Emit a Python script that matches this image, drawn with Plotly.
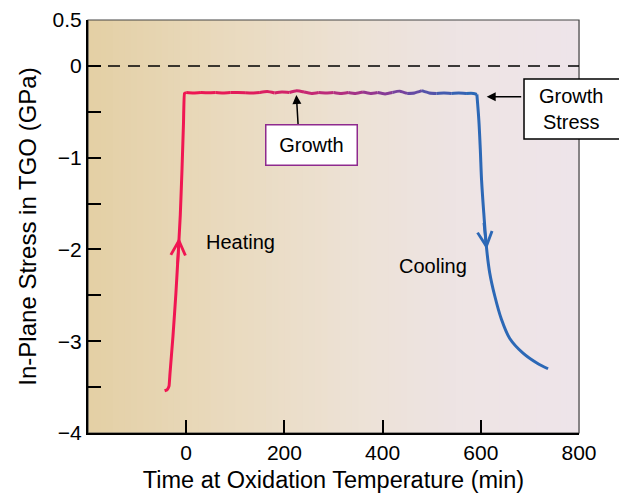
import numpy as np
import plotly.graph_objects as go

# ---------------- data ----------------
heat_x = [-44, -39, -35, -33, -27, -21, -16, -12, -8.5, -5.5, -3.5, 0]
heat_y = [-3.54, -3.53, -3.49, -3.35, -2.95, -2.48, -2.02, -1.62, -1.12, -0.62, -0.30, -0.29]

plat_x = [0, 15, 30, 45, 60, 75, 90, 105, 120, 135, 150, 165, 180, 195, 210, 225,
          240, 255, 270, 285, 300, 315, 330, 345, 360, 375, 390, 405, 420, 435,
          450, 465, 480, 495, 510, 525, 540, 555, 570, 585, 592]
plat_y = [-0.29, -0.295, -0.29, -0.292, -0.29, -0.295, -0.29, -0.29, -0.292, -0.295,
          -0.29, -0.28, -0.295, -0.285, -0.29, -0.27, -0.285, -0.30, -0.29, -0.295,
          -0.29, -0.30, -0.29, -0.30, -0.285, -0.30, -0.29, -0.305, -0.29, -0.275,
          -0.30, -0.295, -0.27, -0.295, -0.30, -0.295, -0.30, -0.295, -0.30, -0.30, -0.31]

cool_x = [592, 596, 599, 601.5, 606, 612, 618, 628.6, 642, 659, 686, 715, 737]
cool_y = [-0.31, -0.59, -0.91, -1.24, -1.60, -2.00, -2.25, -2.51, -2.76, -2.97,
          -3.13, -3.24, -3.30]

x_tickvals = [0, 200, 400, 600, 800]
x_ticktext = ["0", "200", "400", "600", "800"]
y_tickvals = [0.5, 0, -0.5, -1, -1.5, -2, -2.5, -3, -3.5, -4]
y_ticktext = ["0.5", "0", "", "\u22121", "", "\u22122", "", "\u22123", "", "\u22124"]

FONT = "Liberation Sans, Arial, Helvetica, sans-serif"

# colour along the path (red -> purple -> blue)
col_stops_x = [0, 150, 300, 420, 520, 580]
col_stops = [(240, 22, 82), (222, 30, 95), (185, 45, 125), (128, 62, 155), (70, 90, 175), (44, 104, 182)]


def path_color(xv):
    r = np.interp(xv, col_stops_x, [c[0] for c in col_stops])
    g = np.interp(xv, col_stops_x, [c[1] for c in col_stops])
    b = np.interp(xv, col_stops_x, [c[2] for c in col_stops])
    return f"rgb({int(r)},{int(g)},{int(b)})"


fig = go.Figure()

# gradient background
bg_stops = [0, 0.3, 0.55, 0.75, 1.0]
bg_cols = [(228, 208, 165), (234, 219, 192), (237, 226, 214), (238, 228, 228), (239, 229, 234)]
shapes = []
N = 80
for i in range(N):
    f = (i + 0.5) / N
    c = [int(np.interp(f, bg_stops, [cc[k] for cc in bg_cols])) for k in range(3)]
    shapes.append(dict(type="rect", xref="paper", yref="paper", x0=i / N, x1=(i + 1) / N + 0.002,
                       y0=0, y1=1, fillcolor=f"rgb({c[0]},{c[1]},{c[2]})",
                       line=dict(width=0), layer="below"))
# frame
shapes.append(dict(type="rect", xref="paper", yref="paper", x0=0, x1=1, y0=0, y1=1,
                   line=dict(color="#444444", width=1.2), layer="below"))
# dashed zero line
shapes.append(dict(type="line", xref="paper", yref="y", x0=0, x1=1, y0=0, y1=0,
                   line=dict(color="black", width=1.5, dash="12px,8px"), layer="below"))
# "Growth Stress" label box (runs to the right edge of the figure)
shapes.append(dict(type="rect", xref="paper", yref="paper", x0=0.888, x1=1.09,
                   y0=0.712, y1=0.857, fillcolor="white",
                   line=dict(color="black", width=1.5), layer="above"))

# heating (one colour)
fig.add_trace(go.Scatter(x=heat_x, y=heat_y, mode="lines",
                         line=dict(color=path_color(0), width=3, shape="spline", smoothing=0.3),
                         hoverinfo="skip", showlegend=False))
# plateau drawn as coloured pieces (gradient)
step = 2
for i in range(0, len(plat_x) - 1, step):
    xs = plat_x[i:i + step + 1]
    ys = plat_y[i:i + step + 1]
    fig.add_trace(go.Scatter(x=xs, y=ys, mode="lines",
                             line=dict(color=path_color(np.mean(xs)), width=3,
                                       shape="spline", smoothing=0.6),
                             hoverinfo="skip", showlegend=False))
# cooling
fig.add_trace(go.Scatter(x=cool_x, y=cool_y, mode="lines",
                         line=dict(color=path_color(600), width=3, shape="spline", smoothing=1.0),
                         hoverinfo="skip", showlegend=False))

# direction chevrons on the curve
hy = -1.87
hx = float(np.interp(hy, heat_y[2:], heat_x[2:]))
cy = -2.0
cx = float(np.interp(-cy, [-v for v in cool_y], cool_x))

annotations = [
    dict(x=hx, y=hy, ax=-1.5, ay=28, xref="x", yref="y", text="", showarrow=True,
         arrowhead=5, arrowwidth=2.6, arrowsize=1.1, arrowcolor=path_color(0)),
    dict(x=cx, y=cy, ax=-3, ay=-28, xref="x", yref="y", text="", showarrow=True,
         arrowhead=5, arrowwidth=2.6, arrowsize=1.1, arrowcolor=path_color(600)),
    dict(x=37, y=-1.92, xref="x", yref="y", text="Heating", showarrow=False,
         xanchor="left", font=dict(family=FONT, size=20, color="black")),
    dict(x=429, y=-2.18, xref="x", yref="y", text="Cooling", showarrow=False,
         xanchor="left", font=dict(family=FONT, size=20, color="black")),
    # Growth pointer
    dict(x=224, y=-0.285, ax=2, ay=34, xref="x", yref="y", text="", showarrow=True,
         arrowhead=2, arrowwidth=1.5, arrowsize=1.2, arrowcolor="black", standoff=3),
    dict(x=159.6, y=-0.864, xref="x", yref="y", xanchor="left", text="Growth", showarrow=False,
         bordercolor="#8e2a8e", borderwidth=1.5, bgcolor="white", borderpad=2,
         width=86, height=35, font=dict(family=FONT, size=20, color="black")),
    # Growth Stress pointer
    dict(x=612, y=-0.335, ax=36, ay=0, xref="x", yref="y", text="", showarrow=True,
         arrowhead=2, arrowwidth=1.5, arrowsize=1.2, arrowcolor="black"),
    dict(x=0.9847, y=0.785, xref="paper", yref="paper", xanchor="center", yanchor="middle",
         text="Growth<br>Stress", showarrow=False,
         font=dict(family=FONT, size=20, color="black")),
]

fig.update_layout(
    width=619, height=493,
    margin=dict(l=88, r=40, t=20, b=60),
    paper_bgcolor="white", plot_bgcolor="rgba(0,0,0,0)",
    shapes=shapes, annotations=annotations, showlegend=False,
    font=dict(family=FONT, color="black"),
    xaxis=dict(range=[-200, 800], tickvals=x_tickvals, ticktext=x_ticktext,
               showline=True, linecolor="black", linewidth=2, ticks="inside",
               ticklen=13, tickwidth=1.5, tickcolor="black", showgrid=False,
               zeroline=False, tickfont=dict(family=FONT, size=21), automargin=False,
               title=dict(text="Time at Oxidation Temperature (min)",
                          font=dict(family=FONT, size=23.5), standoff=11)),
    yaxis=dict(range=[-4, 0.5], tickvals=y_tickvals, ticktext=y_ticktext,
               showline=True, linecolor="black", linewidth=2, ticks="inside",
               ticklen=13, tickwidth=1.5, tickcolor="black", showgrid=False,
               zeroline=False, tickfont=dict(family=FONT, size=21), automargin=False,
               title=dict(text="In-Plane Stress in TGO (GPa)",
                          font=dict(family=FONT, size=24), standoff=9)),
)

fig.write_html("out.html")
